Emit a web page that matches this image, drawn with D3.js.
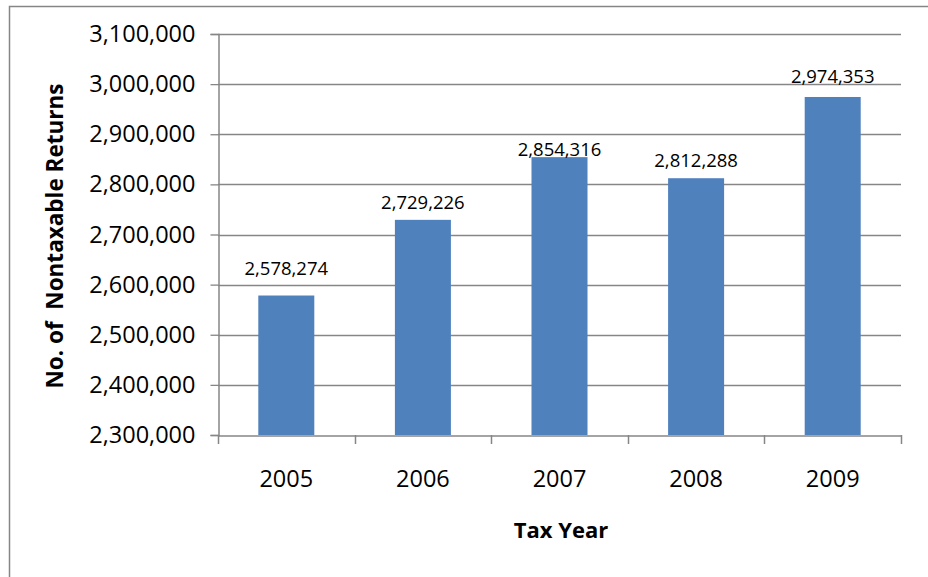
<!DOCTYPE html>
<html>
<head>
<meta charset="utf-8">
<script src="https://cdn.jsdelivr.net/npm/d3@7"></script>
<style>
  html, body { margin: 0; padding: 0; background: #fff; }
  svg { display: block; }
  text { font-family: "Open Sans", "Liberation Sans", Arial, sans-serif; fill: #000; }
</style>
</head>
<body>
<script>
const years = ["2005", "2006", "2007", "2008", "2009"];
const returnsCount = [2578274, 2729226, 2854316, 2812288, 2974353];
const yTicks = [2300000, 2400000, 2500000, 2600000, 2700000, 2800000, 2900000, 3000000, 3100000];
const labelGap = [21, 11, 1, 11, 14];

(function () {
const W = 928, H = 577;
const pLeft = 218, pRight = 901, pTop = 34, pBottom = 435;
const grey = "#868686";
const fontFam = "Open Sans, Liberation Sans, Arial, sans-serif";
const fmt = d3.format(",");

const svg = d3.select("body").append("svg").attr("width", W).attr("height", H);

// outer chart border
svg.append("rect").attr("x", 9.5).attr("y", 6.5).attr("width", 940).attr("height", 600)
  .attr("fill", "none").attr("stroke", grey).attr("stroke-width", 1.5);

const x = d3.scaleBand().domain(years).range([pLeft, pRight]).paddingInner(0.59).paddingOuter(0.295);
const xBand = d3.scaleBand().domain(years).range([pLeft, pRight]);
const y = d3.scaleLinear().domain([2300000, 3100000]).range([pBottom, pTop]);

// gridlines
svg.append("g").selectAll("line").data(yTicks.slice(1)).join("line")
  .attr("x1", pLeft).attr("x2", pRight)
  .attr("y1", d => Math.round(y(d)) + 0.5).attr("y2", d => Math.round(y(d)) + 0.5)
  .attr("stroke", grey).attr("stroke-width", 1.3);

// bars
svg.append("g").selectAll("rect").data(years).join("rect")
  .attr("x", d => x(d)).attr("width", x.bandwidth())
  .attr("y", (d, i) => y(returnsCount[i]))
  .attr("height", (d, i) => pBottom - y(returnsCount[i]))
  .attr("fill", "#4F81BD");

// y axis
const yAxis = svg.append("g").attr("transform", `translate(${pLeft + 0.5},0)`)
  .call(d3.axisLeft(y).tickValues(yTicks).tickFormat(fmt).tickSize(8).tickPadding(15));
yAxis.select(".domain").attr("stroke", grey).attr("stroke-width", 1.5);
yAxis.selectAll(".tick line").attr("stroke", grey).attr("stroke-width", 1.3);
yAxis.selectAll(".tick text").attr("font-size", 23.5).attr("font-family", fontFam)
  .attr("fill", "#000");

// x axis
const xAxis = svg.append("g").attr("transform", `translate(0,${pBottom + 0.5})`)
  .call(d3.axisBottom(xBand).tickSize(0).tickPadding(35));
xAxis.select(".domain").attr("stroke", grey).attr("stroke-width", 1.5);
xAxis.selectAll(".tick text").attr("font-size", 23.5).attr("font-family", fontFam)
  .attr("fill", "#000");
// category boundary tick marks
svg.append("g").selectAll("line").data(years.concat(["end"])).join("line")
  .attr("x1", (d, i) => i < years.length ? Math.round(xBand(d)) + 0.5 : pRight + 0.5)
  .attr("x2", (d, i) => i < years.length ? Math.round(xBand(d)) + 0.5 : pRight + 0.5)
  .attr("y1", pBottom).attr("y2", pBottom + 9)
  .attr("stroke", grey).attr("stroke-width", 1.5);

// data labels
svg.append("g").selectAll("text").data(years).join("text")
  .attr("x", d => x(d) + x.bandwidth() / 2)
  .attr("y", (d, i) => y(returnsCount[i]) - labelGap[i])
  .attr("text-anchor", "middle").attr("font-size", 18.5)
  .text((d, i) => fmt(returnsCount[i]));

// axis titles
svg.append("text").attr("transform", "translate(63,236) rotate(-90)")
  .attr("text-anchor", "middle").attr("font-size", 22.5).attr("font-weight", "bold")
  .attr("xml:space", "preserve").style("white-space", "pre")
  .text("No. of  Nontaxable Returns");
svg.append("text").attr("x", 561).attr("y", 538)
  .attr("text-anchor", "middle").attr("font-size", 22).attr("font-weight", "bold")
  .text("Tax Year");
})();
</script>
</body>
</html>
